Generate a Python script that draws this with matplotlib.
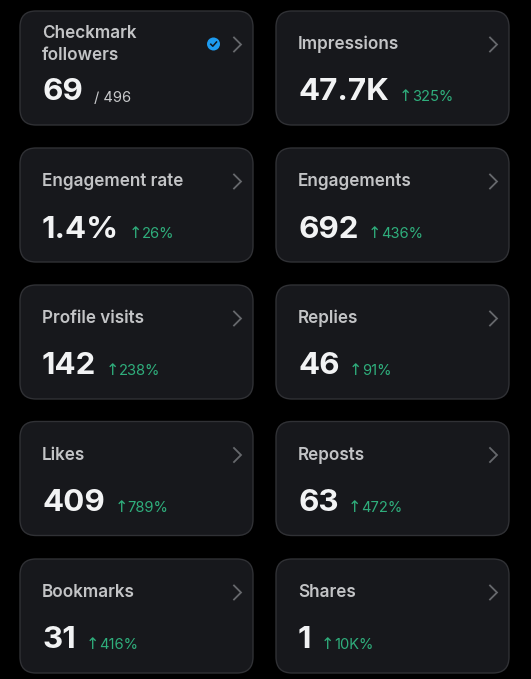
import matplotlib
matplotlib.use("Agg")
import matplotlib.pyplot as plt
from matplotlib.patches import FancyBboxPatch, Circle
from matplotlib.lines import Line2D

labels = ["Checkmark\nfollowers", "Impressions", "Engagement rate", "Engagements",
          "Profile visits", "Replies", "Likes", "Reposts", "Bookmarks", "Shares"]
values = ["69", "47.7K", "1.4%", "692", "142", "46", "409", "63", "31", "1"]
changes = ["/ 496", "325%", "26%", "436%", "238%", "91%", "789%", "472%", "416%", "10K%"]

W, H = 531, 679
CARD_W, CARD_H = 233, 114
COL_X = [20, 276]
ROW_Y = [11, 148, 285, 421.5, 559]

plt.rcParams['font.family'] = ['Inter', 'Liberation Sans', 'DejaVu Sans']
fig = plt.figure(figsize=(W / 100, H / 100), dpi=100, facecolor='#000000')
ax = fig.add_axes([0, 0, 1, 1])
ax.set_xlim(0, W)
ax.set_ylim(H, 0)
ax.axis('off')
fig.canvas.draw()
rend = fig.canvas.get_renderer()

for i, (lab, val, chg) in enumerate(zip(labels, values, changes)):
    x0 = COL_X[i % 2]
    y0 = ROW_Y[i // 2]
    ax.add_patch(FancyBboxPatch((x0 + 16, y0 + 16), CARD_W - 32, CARD_H - 32,
                                boxstyle="round,pad=16,rounding_size=16",
                                fc='#17181c', ec='#303135', lw=1.0))
    tx = x0 + 22
    if i == 0:
        for k, part in enumerate(lab.split("\n")):
            ax.text(tx, y0 + 22 + 22 * k, part, color='#c3c4c6', fontsize=12.3,
                    fontweight='semibold', va='center')
    else:
        ax.text(tx, y0 + 33.5, lab, color='#c3c4c6', fontsize=12.3, fontweight='semibold', va='center')
    # chevron
    cx = x0 + 214
    cy = y0 + 33.5
    ax.add_line(Line2D([cx, cx + 7, cx], [cy - 7, cy, cy + 7], color='#66686c', lw=1.3,
                       solid_joinstyle='miter'))
    base = y0 + 89.5
    t = ax.text(tx, base, val, color='#f2f3f4', fontsize=22.6, fontweight='bold', va='baseline')
    bb = t.get_window_extent(rend)
    endx = bb.x1
    if i == 0:
        ax.text(endx + 11, base + 1, chg, color='#c9cacc', fontsize=10.6, va='baseline')
        ax.add_patch(Circle((x0 + 193.5, y0 + 33), 6.5, fc='#1d9bf0', ec='none'))
        ax.add_line(Line2D([x0 + 190.8, x0 + 192.8, x0 + 196.5],
                           [y0 + 33.2, y0 + 35.2, y0 + 31], color='#10151c', lw=1.1))
    else:
        ax.text(endx + 9.5, base + 0.5, "\u2191", color='#2fae7c', fontsize=11.5, va='baseline',
                family=['DejaVu Sans'])
        ax.text(endx + 23, base + 0.5, chg, color='#2fae7c', fontsize=10.6, va='baseline')

fig.savefig("out.png", dpi=100, facecolor=fig.get_facecolor())
